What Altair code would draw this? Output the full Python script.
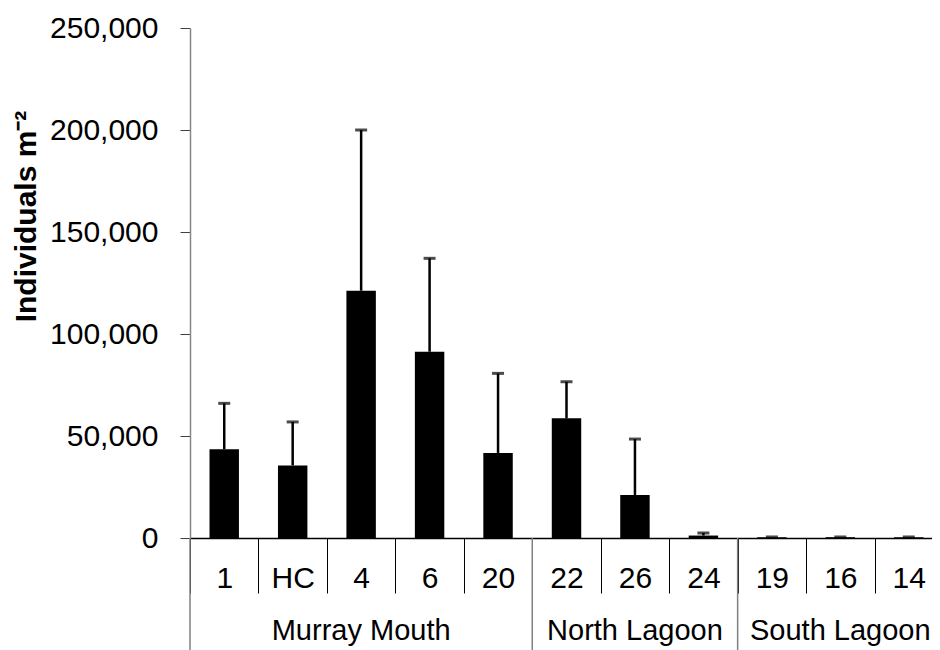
import altair as alt
import pandas as pd

# ---- data ----
sites = ["1", "HC", "4", "6", "20", "22", "26", "24", "19", "16", "14"]
site_groups = ["Murray Mouth"] * 5 + ["North Lagoon"] * 3 + ["South Lagoon"] * 3
means = [43500, 35600, 121200, 91300, 41700, 58700, 21100, 1200, 400, 400, 400]
errors = [22500, 21300, 78800, 45800, 39000, 17900, 27400, 1300, 100, 100, 100]

group_names = ["Murray Mouth", "North Lagoon", "South Lagoon"]
group_mid_site = ["4", "26", "16"]
group_first_site = ["1", "22", "19"]

y_ticks = [0, 50000, 100000, 150000, 200000, 250000]

df = pd.DataFrame({"site": sites, "group": site_groups, "mean": means, "err": errors})
df["upper"] = df["mean"] + df["err"]
gdf = pd.DataFrame({"group": group_names, "mid": group_mid_site, "first": group_first_site})

FONT = "Liberation Sans"

xscale = alt.Scale(domain=sites, paddingInner=0, paddingOuter=0)
yscale = alt.Scale(domain=[0, 250000], nice=False)

x_enc = alt.X(
    "site:N",
    scale=xscale,
    sort=sites,
    axis=alt.Axis(
        title=None,
        labelAngle=0,
        labelFontSize=30,
        labelColor="#000000",
        labelPadding=-30,
        tickBand="extent",
        tickSize=55,
        tickColor="#000000",
        tickWidth=1,
        domainColor="#000000",
        domainWidth=1.5,
        grid=False,
    ),
)

y_enc = alt.Y(
    "mean:Q",
    scale=yscale,
    axis=alt.Axis(
        title="Individuals m⁻²",
        titleFontSize=30,
        titleFontWeight="bold",
        titleColor="#000000",
        titleAngle=270,
        titleAlign="center",
        titleBaseline="middle",
        titleX=-164,
        titleY=188,
        values=y_ticks,
        format=",.0f",
        labelFontSize=30,
        labelColor="#000000",
        labelPadding=22,
        tickSize=10,
        tickColor="#404040",
        domainColor="#868686",
        domainWidth=1.5,
        grid=False,
    ),
)

bars = alt.Chart(df).mark_bar(color="#000000", width=alt.RelativeBandSize(0.43)).encode(
    x=x_enc, y=y_enc
)

err_rule = alt.Chart(df).mark_rule(color="#000000", strokeWidth=2.5).encode(
    x=alt.X("site:N", scale=xscale, sort=sites),
    y=alt.Y("mean:Q", scale=yscale),
    y2="upper:Q",
)

err_cap = alt.Chart(df).mark_tick(color="#000000", size=12, thickness=3).encode(
    x=alt.X("site:N", scale=xscale, sort=sites),
    y=alt.Y("upper:Q", scale=yscale),
)

group_sep = alt.Chart(gdf).mark_rule(color="#7f7f7f", strokeWidth=1.5).encode(
    x=alt.X("first:N", scale=xscale, sort=sites, bandPosition=0),
    y=alt.value(510),
    y2=alt.value(640),
)

group_text = alt.Chart(gdf).mark_text(
    fontSize=29, color="#000000", baseline="alphabetic", align="center", font=FONT
).encode(
    x=alt.X("mid:N", scale=xscale, sort=sites),
    y=alt.value(612),
    text="group:N",
)

chart = (
    alt.layer(bars, err_rule, err_cap, group_sep, group_text)
    .properties(
        width=753,
        height=510,
        autosize=alt.AutoSizeParams(type="none"),
        padding={"left": 182, "top": 20, "right": -11, "bottom": 130},
    )
    .configure(font=FONT)
    .configure_view(stroke=None)
    .configure_axis(labelFont=FONT, titleFont=FONT)
)

chart.save("out.html", embed_options={"renderer": "svg", "actions": False})
